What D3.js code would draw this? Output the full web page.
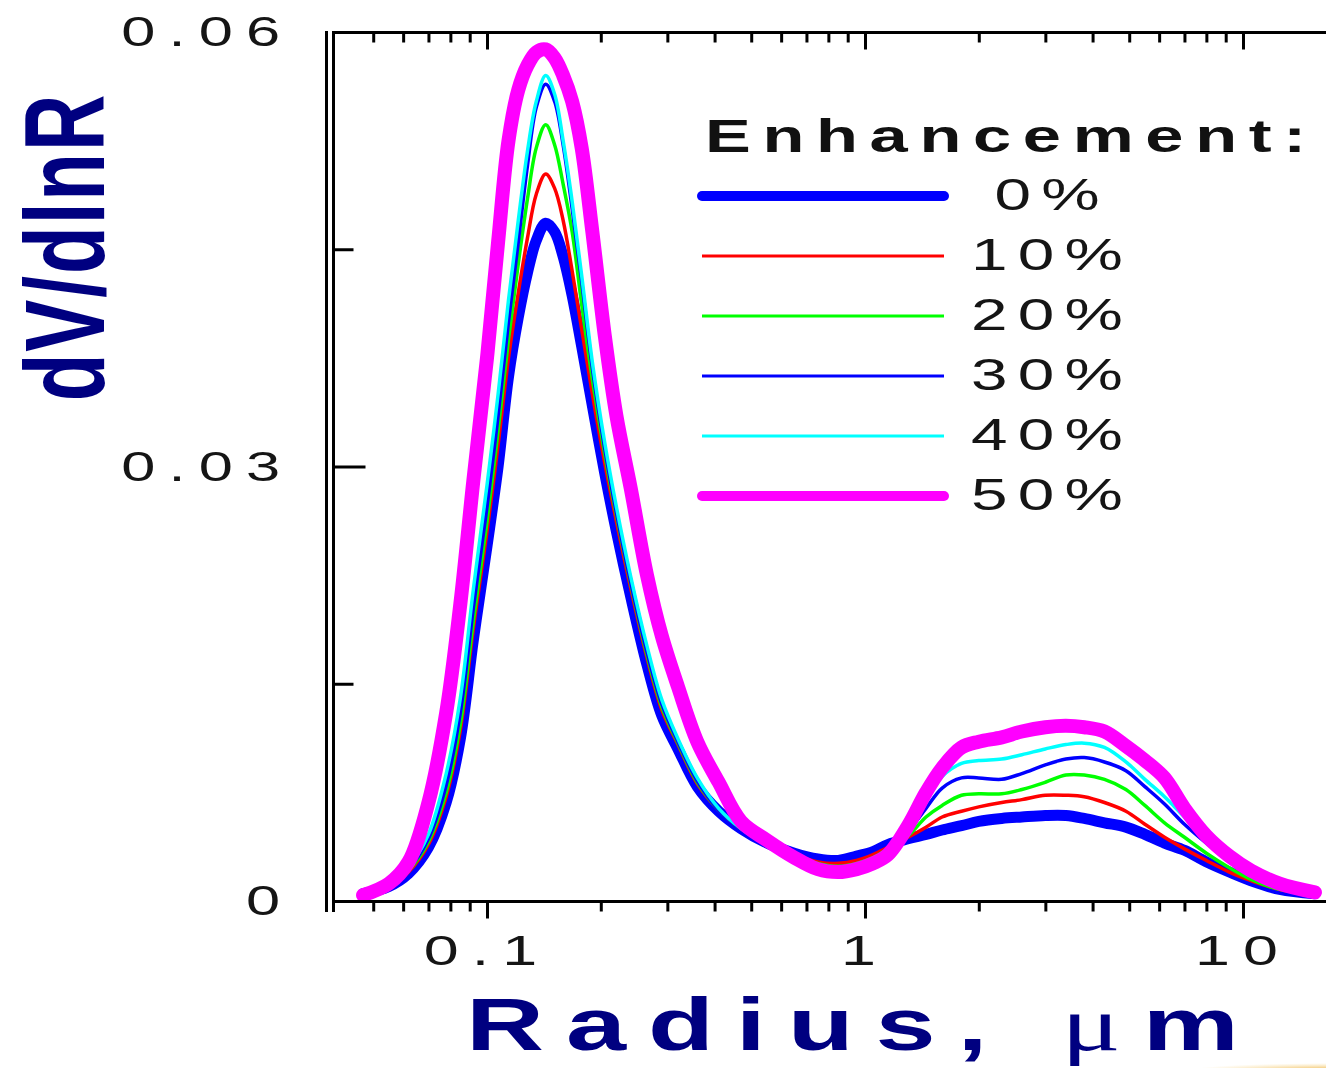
<!DOCTYPE html>
<html>
<head>
<meta charset="utf-8">
<script src="https://cdn.jsdelivr.net/npm/d3@7"></script>
<style>
  html, body { margin: 0; padding: 0; background: #fff; }
  svg { display: block; }
</style>
</head>
<body>
<svg id="chart" width="1326" height="1068"></svg>
<script>
// ---------------- data ----------------
const radius = [0.047, 0.055, 0.062, 0.07, 0.078, 0.085, 0.092, 0.1, 0.107, 0.114,
  0.121, 0.128, 0.135, 0.143, 0.151, 0.159, 0.168, 0.178, 0.19, 0.205,
  0.22, 0.24, 0.265, 0.29, 0.32, 0.36, 0.41, 0.47, 0.55, 0.65,
  0.75, 0.85, 0.95, 1.05, 1.15, 1.3, 1.45, 1.6, 1.8, 2.0,
  2.3, 2.6, 3.0, 3.4, 3.8, 4.3, 4.9, 5.5, 6.2, 7.0,
  8.0, 9.2, 10.5, 12.5, 15.5];

const enh0 = [0.0005, 0.0010, 0.0019, 0.0037, 0.0068, 0.0112, 0.0180, 0.0245, 0.0300, 0.0362,
  0.0403, 0.0434, 0.0456, 0.0468, 0.0462, 0.0445, 0.0418, 0.0383, 0.0342, 0.0295,
  0.0255, 0.0210, 0.0163, 0.0128, 0.0105, 0.0079, 0.0062, 0.0050, 0.0040, 0.0033,
  0.0029, 0.0028, 0.0031, 0.0034, 0.0039, 0.0043, 0.0046, 0.0049, 0.0052, 0.0055,
  0.0057, 0.0058, 0.0059, 0.0059, 0.0057, 0.0054, 0.0051, 0.0046, 0.0040, 0.0035,
  0.0027, 0.0020, 0.0014, 0.0008, 0.0005];

const enh10 = [0.0005, 0.0010, 0.0020, 0.0039, 0.0072, 0.0118, 0.0188, 0.0255, 0.0315, 0.0375,
  0.0420, 0.0458, 0.0488, 0.0502, 0.0492, 0.0470, 0.0435, 0.0395, 0.0350, 0.0302,
  0.0262, 0.0216, 0.0168, 0.0132, 0.0108, 0.0081, 0.0063, 0.0050, 0.0040, 0.0032,
  0.0027, 0.0026, 0.0028, 0.0032, 0.0037, 0.0044, 0.0051, 0.0058, 0.0062, 0.0065,
  0.0068, 0.0070, 0.0073, 0.0073, 0.0072, 0.0068, 0.0062, 0.0053, 0.0044, 0.0036,
  0.0028, 0.0020, 0.0014, 0.0008, 0.0005];

const enh20 = [0.0005, 0.0010, 0.0021, 0.0041, 0.0075, 0.0122, 0.0193, 0.0262, 0.0325, 0.0388,
  0.0440, 0.0485, 0.0520, 0.0536, 0.0522, 0.0495, 0.0462, 0.0412, 0.0360, 0.0308,
  0.0266, 0.0219, 0.0170, 0.0134, 0.0109, 0.0082, 0.0063, 0.0050, 0.0039, 0.0031,
  0.0026, 0.0024, 0.0026, 0.0030, 0.0036, 0.0045, 0.0058, 0.0066, 0.0073, 0.0074,
  0.0074, 0.0077, 0.0082, 0.0087, 0.0087, 0.0084, 0.0077, 0.0066, 0.0054, 0.0044,
  0.0033, 0.0023, 0.0015, 0.0008, 0.0005];

const enh30 = [0.0005, 0.0011, 0.0022, 0.0043, 0.0080, 0.0130, 0.0202, 0.0272, 0.0335, 0.0400,
  0.0455, 0.0508, 0.0548, 0.0564, 0.0552, 0.0522, 0.0478, 0.0428, 0.0368, 0.0312,
  0.0268, 0.0220, 0.0172, 0.0136, 0.0110, 0.0083, 0.0063, 0.0050, 0.0039, 0.0030,
  0.0025, 0.0023, 0.0025, 0.0029, 0.0036, 0.0048, 0.0064, 0.0078, 0.0085, 0.0085,
  0.0084, 0.0088, 0.0094, 0.0098, 0.0099, 0.0096, 0.0090, 0.0079, 0.0067, 0.0053,
  0.0040, 0.0028, 0.0018, 0.0009, 0.0005];

const enh40 = [0.0005, 0.0011, 0.0023, 0.0046, 0.0088, 0.0140, 0.0215, 0.0287, 0.0350, 0.0415,
  0.0470, 0.0518, 0.0552, 0.0570, 0.0557, 0.0525, 0.0483, 0.0432, 0.0372, 0.0316,
  0.0272, 0.0224, 0.0176, 0.0139, 0.0112, 0.0085, 0.0064, 0.0050, 0.0039, 0.0030,
  0.0024, 0.0022, 0.0024, 0.0028, 0.0035, 0.0050, 0.0070, 0.0086, 0.0095, 0.0097,
  0.0098, 0.0101, 0.0105, 0.0108, 0.0109, 0.0106, 0.0096, 0.0084, 0.0072, 0.0058,
  0.0043, 0.0030, 0.0020, 0.0011, 0.0005];

const enh50 = [0.0004, 0.0012, 0.0027, 0.0068, 0.0130, 0.0205, 0.0290, 0.0375, 0.0455, 0.0525,
  0.0560, 0.0577, 0.0586, 0.0588, 0.0582, 0.0570, 0.0552, 0.0520, 0.0462, 0.0390,
  0.0335, 0.0285, 0.0225, 0.0183, 0.0148, 0.0110, 0.0082, 0.0055, 0.0042, 0.0030,
  0.0022, 0.0020, 0.0022, 0.0026, 0.0032, 0.0052, 0.0075, 0.0092, 0.0106, 0.0110,
  0.0113, 0.0117, 0.0120, 0.0121, 0.0120, 0.0117, 0.0107, 0.0097, 0.0085, 0.0064,
  0.0045, 0.0031, 0.0021, 0.0012, 0.0006];

const seriesLabels = ["0%", "10%", "20%", "30%", "40%", "50%"];
const seriesColors = ["#0000ff", "#ff0000", "#00ff00", "#0000ff", "#00ffff", "#ff00ff"];
const seriesWidths = [11, 3.5, 3.5, 3.5, 3.5, 14];
const seriesValues = [enh0, enh10, enh20, enh30, enh40, enh50];

const xMajorTicks = [0.1, 1, 10];
const xMajorLabels = ["0.1", "1", "10"];
const xMinorTicks = [0.05, 0.06, 0.07, 0.08, 0.09, 0.2, 0.3, 0.4, 0.5, 0.6, 0.7, 0.8, 0.9,
  2, 3, 4, 5, 6, 7, 8, 9];
const yLabelTicks = [0, 0.03, 0.06];
const yLabelText = ["0", "0.03", "0.06"];
const yMinorTicks = [0.015, 0.045];
const legendTitle = "Enhancement:";
const xTitle = "Radius, ";
const xTitleUnit = "\u03bcm";
const yTitle = "dV/dlnR";

// ---------------- drawing ----------------
const SX = 1.46; // horizontal stretch of all lettering
const svg = d3.select("#chart");
const W = 1326, H = 1068;

const x = d3.scaleLog().domain([0.1, 10]).range([487, 1243]);
const y = d3.scaleLinear().domain([0, 0.06]).range([901, 32]);

const plotL = 333.5, plotT = 32.5, plotB = 901.5;

// faint decoration bottom-right
const defs = svg.append("defs");
const rg = defs.append("radialGradient").attr("id", "glow");
rg.append("stop").attr("offset", "0%").attr("stop-color", "#e89a10").attr("stop-opacity", 0.95);
rg.append("stop").attr("offset", "100%").attr("stop-color", "#f6d070").attr("stop-opacity", 0);
svg.append("ellipse").attr("cx", W + 10).attr("cy", H + 3).attr("rx", 150).attr("ry", 8)
  .attr("fill", "url(#glow)");

// curves
const line = d3.line()
  .x(d => x(d[0]))
  .y(d => y(d[1]))
  .curve(d3.curveCatmullRom.alpha(0.5));

const gCurves = svg.append("g");
seriesValues.forEach((vals, i) => {
  gCurves.append("path")
    .datum(radius.map((r, k) => [r, vals[k]]))
    .attr("d", line)
    .attr("fill", "none")
    .attr("stroke", seriesColors[i])
    .attr("stroke-width", seriesWidths[i])
    .attr("stroke-linejoin", "round")
    .attr("stroke-linecap", "round");
});

// frame lines
const frame = svg.append("g").attr("stroke", "#000").attr("stroke-width", 3);
frame.append("line").attr("x1", 326.5).attr("x2", 326.5).attr("y1", 31).attr("y2", 912);
frame.append("line").attr("x1", plotL).attr("x2", plotL).attr("y1", 31).attr("y2", 912);
frame.append("line").attr("x1", plotL).attr("x2", W).attr("y1", plotT).attr("y2", plotT);
frame.append("line").attr("x1", plotL).attr("x2", W).attr("y1", plotB).attr("y2", plotB);

function styleAxis(g) {
  g.select(".domain").remove();
  g.selectAll(".tick line").attr("stroke", "#000").attr("stroke-width", 3);
  g.selectAll(".tick text").remove();
}

// bottom axis (outward ticks)
svg.append("g").attr("transform", `translate(0,${plotB})`)
  .call(d3.axisBottom(x).tickValues(xMinorTicks).tickSize(10).tickFormat(""))
  .call(styleAxis);
svg.append("g").attr("transform", `translate(0,${plotB})`)
  .call(d3.axisBottom(x).tickValues(xMajorTicks).tickSize(17).tickFormat(""))
  .call(styleAxis);
// top axis (inward ticks)
svg.append("g").attr("transform", `translate(0,${plotT})`)
  .call(d3.axisBottom(x).tickValues(xMinorTicks).tickSize(10).tickFormat(""))
  .call(styleAxis);
svg.append("g").attr("transform", `translate(0,${plotT})`)
  .call(d3.axisBottom(x).tickValues(xMajorTicks).tickSize(17).tickFormat(""))
  .call(styleAxis);
// left axis (inward ticks)
svg.append("g").attr("transform", `translate(${plotL},0)`)
  .call(d3.axisRight(y).tickValues(yMinorTicks).tickSize(20).tickFormat(""))
  .call(styleAxis);
svg.append("g").attr("transform", `translate(${plotL},0)`)
  .call(d3.axisRight(y).tickValues([0.03]).tickSize(32).tickFormat(""))
  .call(styleAxis);

// stretched text helper
function stext(parent, tx, ty, str, opts) {
  const g = parent.append("g")
    .attr("transform", `translate(${tx},${ty}) scale(${SX},1)` + (opts.rotate ? ` rotate(${opts.rotate})` : ""));
  const t = g.append("text")
    .attr("x", 0).attr("y", 0)
    .attr("text-anchor", opts.anchor || "start")
    .attr("font-family", opts.family || "'Liberation Sans', Arial, sans-serif")
    .attr("font-size", opts.size)
    .attr("font-weight", opts.weight || "normal")
    .attr("letter-spacing", opts.ls || 0)
    .attr("fill", opts.fill || "#151515")
    .text(str);
  return t;
}

// tick labels
const tickLS = 9;
yLabelTicks.forEach((v, i) => {
  stext(svg, 280 + tickLS * SX, y(v) + 14, yLabelText[i], { size: 42, ls: tickLS, anchor: "end" });
});
xMajorTicks.forEach((v, i) => {
  stext(svg, x(v), 965, xMajorLabels[i], { size: 43, ls: tickLS, anchor: "middle" });
});

// axis titles
const xt = stext(svg, 466, 1050, xTitle, { size: 74, ls: 15, weight: "bold", fill: "#000080" });
xt.append("tspan")
  .attr("font-family", "'Liberation Serif', 'Times New Roman', serif")
  .attr("font-weight", "normal")
  .attr("font-size", 76)
  .text(xTitleUnit.charAt(0));
xt.append("tspan").text(xTitleUnit.charAt(1));

stext(svg, 104, 247, yTitle, { size: 78, ls: 2, weight: "bold", fill: "#000080", anchor: "middle", rotate: -90 });

// legend
const legend = svg.append("g");
stext(legend, 705, 152, legendTitle, { size: 47, ls: 8, weight: "bold", fill: "#111" });
const legendY = d3.scalePoint().domain(seriesLabels).range([196, 496]);
seriesLabels.forEach((lab, i) => {
  const ly = legendY(lab);
  legend.append("line")
    .attr("x1", 702).attr("x2", 944)
    .attr("y1", ly).attr("y2", ly)
    .attr("stroke", seriesColors[i])
    .attr("stroke-width", i === 0 || i === 5 ? 10 : 3)
    .attr("stroke-linecap", i === 0 || i === 5 ? "round" : "butt");
  stext(legend, 1047 + 7 * SX / 2, ly + 14, lab, { size: 45, ls: 7, anchor: "middle" });
});
</script>
</body>
</html>
